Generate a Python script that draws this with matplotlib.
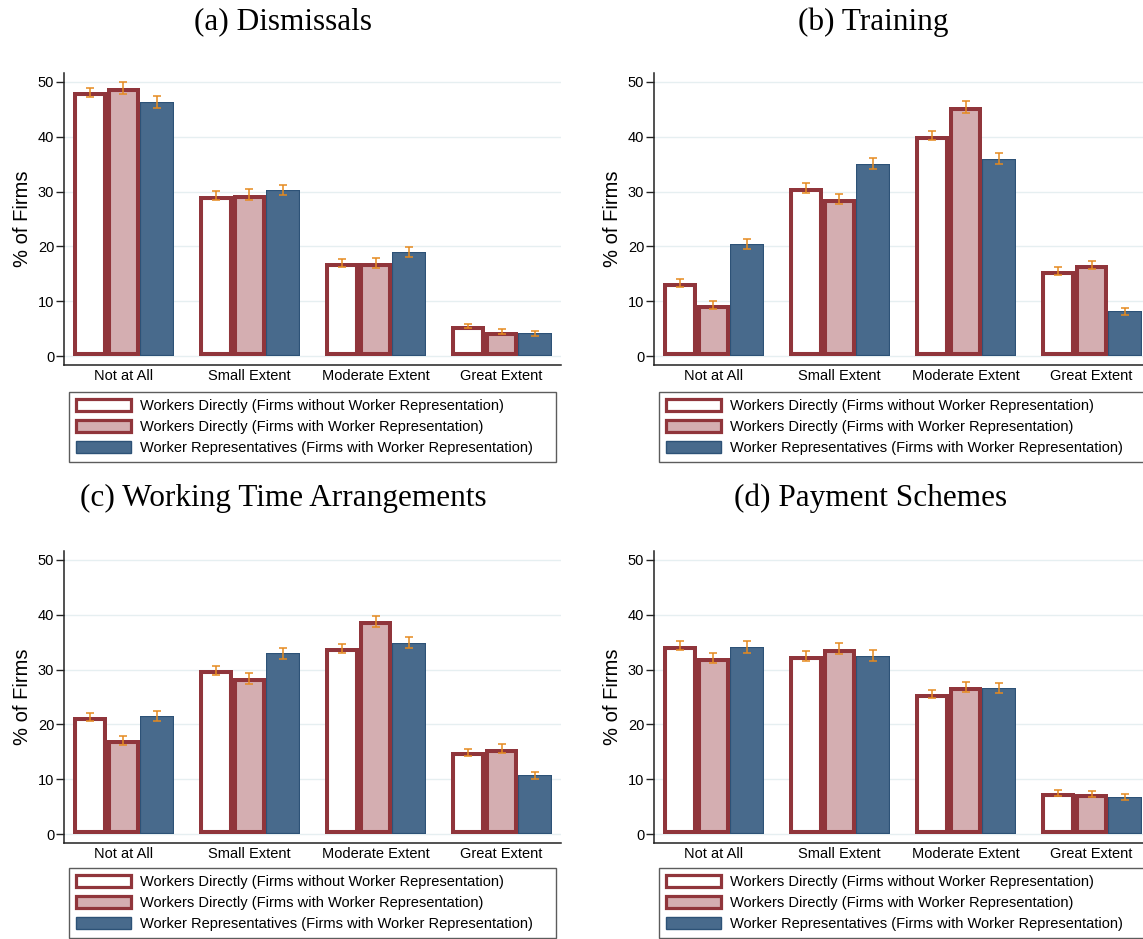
import numpy as np
import matplotlib
matplotlib.use("Agg")
import matplotlib.pyplot as plt
from matplotlib.patches import Patch

plt.rcParams['font.family'] = ['Liberation Sans', 'DejaVu Sans']

categories = ['Not at All', 'Small Extent', 'Moderate Extent', 'Great Extent']
series_labels = ['Workers Directly (Firms without Worker Representation)',
                 'Workers Directly (Firms with Worker Representation)',
                 'Worker Representatives (Firms with Worker Representation)']
panel_titles = ['(a) Dismissals', '(b) Training',
                '(c) Working Time Arrangements', '(d) Payment Schemes']

# (a) Dismissals
dismiss_direct_nowr = [48.1, 29.2, 17.0, 5.5]
dismiss_direct_wr = [48.8, 29.4, 17.0, 4.5]
dismiss_reps = [46.3, 30.3, 19.0, 4.2]
dismiss_err = [[0.85, 0.82, 0.70, 0.43], [1.07, 1.00, 0.85, 0.52], [1.10, 0.97, 0.88, 0.46]]

# (b) Training
train_direct_nowr = [13.4, 30.7, 40.2, 15.5]
train_direct_wr = [9.4, 28.6, 45.4, 16.6]
train_reps = [20.5, 35.1, 36.0, 8.2]
train_err = [[0.70, 0.88, 0.88, 0.67], [0.73, 0.94, 1.04, 0.79], [0.91, 1.00, 1.07, 0.61]]

# (c) Working time arrangements
wtime_direct_nowr = [21.35, 29.9, 33.9, 14.9]
wtime_direct_wr = [17.1, 28.4, 38.8, 15.6]
wtime_reps = [21.5, 33.0, 34.9, 10.7]
wtime_err = [[0.76, 0.82, 0.82, 0.67], [0.79, 0.97, 1.03, 0.76], [0.91, 1.00, 1.03, 0.70]]

# (d) Payment schemes
pay_direct_nowr = [34.35, 32.5, 25.5, 7.5]
pay_direct_wr = [32.1, 33.8, 26.8, 7.4]
pay_reps = [34.1, 32.5, 26.7, 6.8]
pay_err = [[0.82, 0.85, 0.76, 0.49], [0.97, 1.03, 0.94, 0.55], [1.03, 1.00, 0.94, 0.52]]

panels = [
    ([dismiss_direct_nowr, dismiss_direct_wr, dismiss_reps], dismiss_err),
    ([train_direct_nowr, train_direct_wr, train_reps], train_err),
    ([wtime_direct_nowr, wtime_direct_wr, wtime_reps], wtime_err),
    ([pay_direct_nowr, pay_direct_wr, pay_reps], pay_err),
]

RED = '#90353b'
PINK = '#d4aeb1'
BLUE = '#486a8c'
BLUE_EDGE = '#2d5277'
ORANGE = '#e58a1f'
GRID = '#e6eff1'

face_colors = ['white', PINK, BLUE]
edge_colors = [RED, RED, BLUE_EDGE]
edge_widths = [5.8, 5.8, 1.6]  # clipped to the bar, so half is visible

W, H = 1143, 939
fig = plt.figure(figsize=(W / 100, H / 100), dpi=100)

# pixel boxes (left, top, right, bottom) for each axes
boxes = [(64, 73, 561, 365), (654, 73, 1151, 365),
         (64, 551, 561, 843), (654, 551, 1151, 843)]
title_pos = [(283, 22), (873, 22), (283, 498), (871, 498)]
legend_boxes = [(69, 392, 556, 463), (659, 392, 1146, 463),
                (69, 868, 556, 938), (659, 868, 1146, 938)]

x = np.arange(len(categories))
bw = 0.2656

for k, (vals, errs) in enumerate(panels):
    l, t, r, b = boxes[k]
    ax = fig.add_axes([l / W, 1 - b / H, (r - l) / W, (b - t) / H])
    ax.set_xlim(-0.472, 3.472)
    ax.set_ylim(-1.6, 51.6)

    for j in range(3):
        pos = x + (j - 1) * bw
        bars = ax.bar(pos, vals[j], width=bw, color=face_colors[j],
                      edgecolor=edge_colors[j], linewidth=edge_widths[j], zorder=2)
        for p in bars:
            p.set_clip_path(p)
        ax.errorbar(pos, vals[j], yerr=errs[j], fmt='none', ecolor=ORANGE,
                    elinewidth=1.1, capsize=3.0, capthick=1.1, zorder=3)

    ax.set_yticks([0, 10, 20, 30, 40, 50])
    ax.yaxis.grid(True, color=GRID, linewidth=1.0, zorder=0)
    ax.set_axisbelow(True)
    ax.set_xticks(x)
    ax.set_xticklabels(categories, fontsize=10.5)
    ax.tick_params(axis='x', length=0, pad=3)
    ax.tick_params(axis='y', length=5.5, width=1.0, pad=1.5, labelsize=10.5, color='#222222')
    for s in ['top', 'right']:
        ax.spines[s].set_visible(False)
    for s in ['left', 'bottom']:
        ax.spines[s].set_color('#222222')
        ax.spines[s].set_linewidth(1.1)
    ax.set_ylabel('% of Firms', fontsize=14.5)
    ax.yaxis.set_label_coords(-0.064, 0.5)

    tx, ty = title_pos[k]
    fig.text(tx / W, 1 - ty / H, panel_titles[k], ha='center', va='center',
             fontsize=22.5, family=['Liberation Serif', 'DejaVu Serif'])

    handles = [Patch(facecolor=face_colors[j], edgecolor=edge_colors[j],
                     linewidth=2.3 if j < 2 else 1.0) for j in range(3)]
    ll, lt, lr, lb = legend_boxes[k]
    leg = fig.legend(handles, series_labels, loc='upper left',
                     bbox_to_anchor=(ll / W, 1 - lb / H, (lr - ll) / W, (lb - lt) / H),
                     mode='expand', borderaxespad=0, fontsize=10.5, frameon=True,
                     fancybox=False, edgecolor='#333333', handlelength=3.8,
                     handleheight=0.9, handletextpad=0.6, labelspacing=0.5,
                     borderpad=0.45)
    leg.get_frame().set_linewidth(1.0)

fig.savefig('out.png', dpi=100)
